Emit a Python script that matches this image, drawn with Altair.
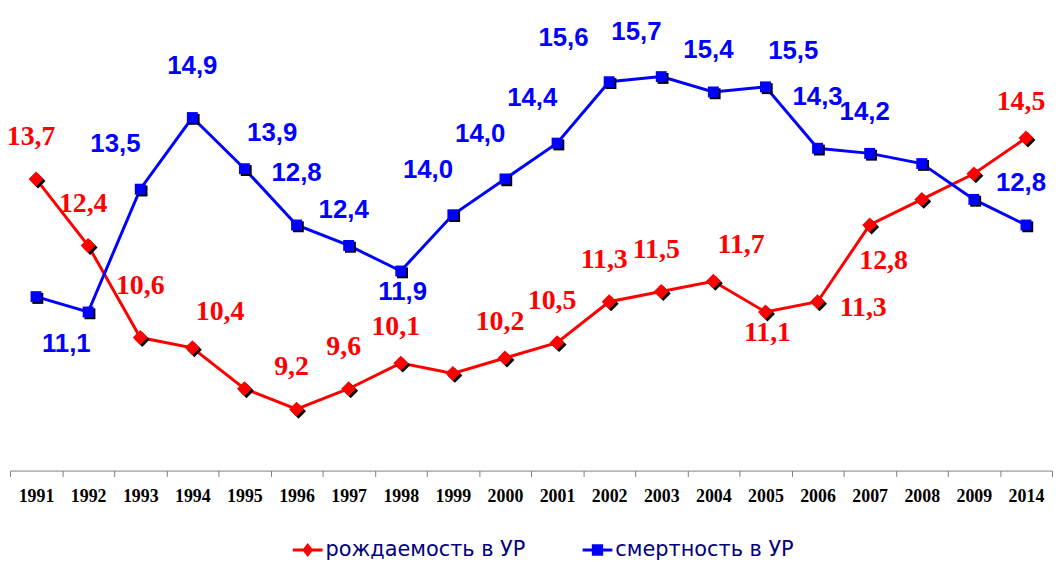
import altair as alt
import pandas as pd

years = ["1991", "1992", "1993", "1994", "1995", "1996", "1997", "1998", "1999", "2000",
         "2001", "2002", "2003", "2004", "2005", "2006", "2007", "2008", "2009", "2014"]

birth = [13.7, 12.4, 10.6, 10.4, 9.6, 9.2, 9.6, 10.1, 9.9, 10.2,
         10.5, 11.3, 11.5, 11.7, 11.1, 11.3, 12.8, 13.3, 13.8, 14.5]
death = [11.4, 11.1, 13.5, 14.9, 13.9, 12.8, 12.4, 11.9, 13.0, 13.7,
         14.4, 15.6, 15.7, 15.4, 15.5, 14.3, 14.2, 14.0, 13.3, 12.8]

birth_labels = ["13,7", "12,4", "10,6", "10,4", "", "9,2", "9,6", "10,1", "", "10,2",
                "10,5", "11,3", "11,5", "11,7", "11,1", "11,3", "12,8", "", "", "14,5"]
death_labels = ["", "11,1", "13,5", "14,9", "13,9", "12,8", "12,4", "11,9", "14,0", "14,0",
                "14,4", "15,6", "15,7", "15,4", "15,5", "14,3", "14,2", "", "", "12,8"]

# label placement names (see PLACES below)
birth_place = ["up", "up", "upHi", "upR", "", "up", "up", "upLo", "", "upLo",
               "up", "up", "up", "upR", "down", "right", "downR", "", "", "upLo"]
death_place = ["", "downL", "upL", "upHi", "upR", "upHi", "upLo", "down", "upL", "upL",
               "upL", "upLL", "upL", "up", "upR", "upHi", "up", "", "", "up"]

SERIES = ["рождаемость в УР", "смертность в УР"]
COLORS = ["#FF0000", "#0000FF"]
LABEL_FONTS = ["Liberation Serif", "Liberation Sans"]
LABEL_SIZES = [28, 26]

PLACES = {
    "up": (-5, -42), "upHi": (0, -52), "upLo": (-5, -36), "upL": (-25, -45),
    "upLL": (-46, -44), "upR": (28, -36), "down": (2, 21), "downL": (-22, 32),
    "right": (46, 6), "downR": (14, 36),
}

DIAMOND = "M0,-1L1,0L0,1L-1,0Z"
DIAMOND_SH = "M0.27,-0.73L1.27,0.27L0.27,1.27L-0.73,0.27Z"
SQUARE = "M-1,-1H1V1H-1Z"
SQUARE_SH = "M-0.67,-0.67H1.33V1.33H-0.67Z"
LEG_RED = "M-1,-0.1H1V0.1H-1Z M0,-0.47L0.36,0L0,0.47L-0.36,0Z"
LEG_BLUE = "M-1,-0.1H1V0.1H-1Z M-0.38,-0.38H0.38V0.38H-0.38Z"

rows = []
for s, vals, labs, places in [(SERIES[0], birth, birth_labels, birth_place),
                              (SERIES[1], death, death_labels, death_place)]:
    for i, yv in enumerate(years):
        rows.append(dict(year=yv, value=vals[i], label=labs[i], place=places[i], series=s))
df = pd.DataFrame(rows)

x = alt.X("year:O", sort=years,
          scale=alt.Scale(type="band", paddingInner=0, paddingOuter=0),
          axis=alt.Axis(title=None, labelAngle=0, tickBand="extent",
                        labelFont="Liberation Serif", labelFontWeight="bold",
                        labelFontSize=18, labelColor="black", labelPadding=11,
                        domainColor="#808080", tickColor="#808080", tickSize=6,
                        grid=False))
y = alt.Y("value:Q", scale=alt.Scale(domain=[8, 17], zero=False, nice=False), axis=None)

base = alt.Chart(df)
layers = []
specs = [
    (SERIES[0], COLORS[0], DIAMOND, DIAMOND_SH, 225, LABEL_FONTS[0], LABEL_SIZES[0]),
    (SERIES[1], COLORS[1], SQUARE, SQUARE_SH, 121, LABEL_FONTS[1], LABEL_SIZES[1]),
]
for s, c, shp, shp_sh, size, font, fsize in specs:
    sub = base.transform_filter(alt.datum.series == s)
    layers.append(sub.mark_line(color=c, strokeWidth=3).encode(x=x, y=y))
    layers.append(sub.mark_point(filled=True, shape=shp_sh, size=size, color="black",
                                 opacity=1, strokeWidth=0).encode(x=x, y=y))
    layers.append(sub.mark_point(filled=True, shape=shp, size=size, color=c,
                                 opacity=1, strokeWidth=0).encode(x=x, y=y))
    for name, (dx, dy) in PLACES.items():
        layers.append(
            sub.transform_filter(alt.datum.place == name)
            .mark_text(font=font, fontWeight="bold", fontSize=fsize, color=c,
                       dx=dx, dy=dy, baseline="middle", align="center")
            .encode(x=x, y=y, text="label:N")
        )

legend = alt.Legend(title=None, orient="none", legendX=285, legendY=529,
                    direction="horizontal", labelFont="DejaVu Sans", labelFontSize=21,
                    labelColor="#000080", symbolSize=900, symbolStrokeWidth=0,
                    labelOffset=3, columnPadding=57, symbolOpacity=1, labelLimit=0)
leg_layer = base.transform_filter("false").mark_point(filled=True, opacity=1).encode(
    x=x, y=y,
    color=alt.Color("series:N", scale=alt.Scale(domain=SERIES, range=COLORS), legend=legend),
    shape=alt.Shape("series:N", scale=alt.Scale(domain=SERIES, range=[LEG_RED, LEG_BLUE]),
                    legend=legend),
)
layers.append(leg_layer)

chart = alt.layer(*layers).properties(
    width=1050, height=464,
    autosize=alt.AutoSizeParams(type="none"),
    padding={"left": 2, "top": 0, "right": 2, "bottom": 90},
    background="white",
).configure_view(strokeWidth=0).configure_legend(
    labelFont="DejaVu Sans", labelFontSize=21, labelColor="#000080", labelLimit=0
)

chart.save("out.html", embed_options={"renderer": "svg", "actions": False})
